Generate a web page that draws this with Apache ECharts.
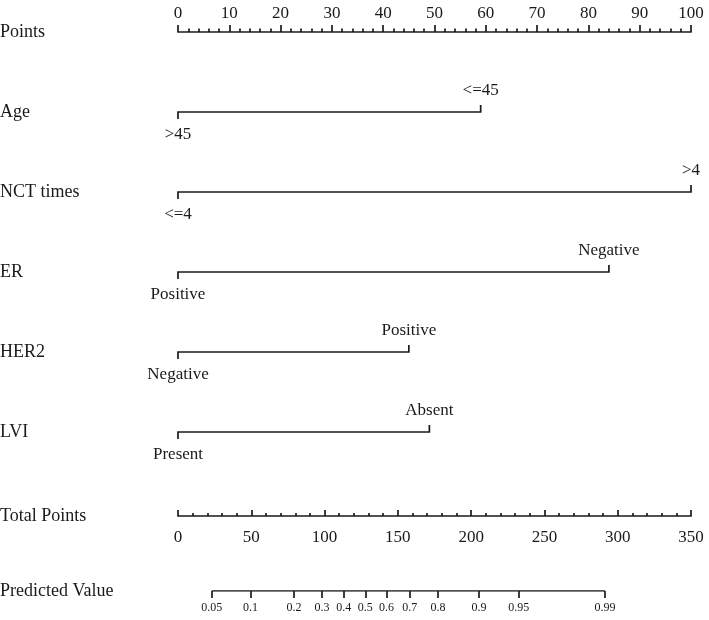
<!DOCTYPE html>
<html><head><meta charset="utf-8">
<script src="https://cdn.jsdelivr.net/npm/echarts@6/dist/echarts.min.js"></script>
<style>html,body{margin:0;padding:0;background:#fff}#c{width:709px;height:620px}</style>
</head><body><div id="c"></div>
<script>
// ---- data ----
const rowNames = ['Points', 'Age', 'NCT times', 'ER', 'HER2', 'LVI'];
const bottomRowNames = ['Total Points', 'Predicted Value'];
const lowLevels = ['>45', '<=4', 'Positive', 'Negative', 'Present'];
const highLevels = ['<=45', '>4', 'Negative', 'Positive', 'Absent'];
const lowPoints = [0, 0, 0, 0, 0];
const highPoints = [59, 100, 84, 45, 49];
const pointsRange = [0, 100];
const totalRange = [0, 350];
const predLabels = ['0.05', '0.1', '0.2', '0.3', '0.4', '0.5', '0.6', '0.7', '0.8', '0.9', '0.95', '0.99'];
const predTotals = [23.1, 49.5, 79.1, 98.2, 113.0, 127.8, 142.2, 158.1, 177.4, 205.4, 232.5, 291.3];

// ---- styling ----
const FONT = '"Liberation Serif", "Times New Roman", serif';
const INK = '#1a1a1a';
const LW = 1.7;
const FS = 17;
const FS_ROW = 18;

const bracketData = highPoints.map((v, i) => [lowPoints[i], v, i + 1]);

const chart = echarts.init(document.getElementById('c'), null, { renderer: 'canvas' });
chart.setOption({
  animation: false,
  backgroundColor: '#fff',
  textStyle: { fontFamily: FONT, color: INK },
  grid: [
    { left: 178, right: 18, top: 32, bottom: 188, containLabel: false, outerBoundsMode: 'none' },
    { left: 178, right: 18, top: 516, bottom: 29, containLabel: false, outerBoundsMode: 'none' }
  ],
  xAxis: [
    {
      type: 'value', gridIndex: 0, position: 'top',
      min: pointsRange[0], max: pointsRange[1], interval: 10,
      axisLine: { show: true, onZero: false, lineStyle: { color: INK, width: LW } },
      axisTick: { show: true, length: 7, lineStyle: { color: INK, width: LW } },
      minorTick: { show: true, splitNumber: 5, length: 3.5, lineStyle: { color: INK, width: LW } },
      splitLine: { show: false },
      axisLabel: { fontFamily: FONT, fontSize: FS, color: INK, margin: 10 }
    },
    {
      type: 'value', gridIndex: 1, position: 'top',
      min: totalRange[0], max: totalRange[1], interval: 50,
      axisLine: { show: true, onZero: false, lineStyle: { color: INK, width: LW } },
      axisTick: { show: true, length: 6, lineStyle: { color: INK, width: LW } },
      minorTick: { show: true, splitNumber: 5, length: 3, lineStyle: { color: INK, width: LW } },
      splitLine: { show: false },
      axisLabel: { inside: true, fontFamily: FONT, fontSize: FS, color: INK, margin: 13 }
    },
    {
      type: 'value', gridIndex: 1, position: 'bottom',
      min: totalRange[0], max: totalRange[1],
      axisLine: { show: false, onZero: false },
      axisTick: { show: true, length: 7, customValues: predTotals, lineStyle: { color: INK, width: LW } },
      splitLine: { show: false },
      axisLabel: {
        customValues: predTotals, fontFamily: FONT, fontSize: 12, color: INK, margin: 11,
        formatter: function (v) {
          let best = 0;
          predTotals.forEach((t, i) => { if (Math.abs(t - v) < Math.abs(predTotals[best] - v)) best = i; });
          return predLabels[best];
        }
      }
    }
  ],
  yAxis: [
    {
      type: 'value', gridIndex: 0, inverse: true, min: 0, max: rowNames.length - 1, interval: 1,
      axisLine: { show: false }, axisTick: { show: false }, splitLine: { show: false },
      axisLabel: {
        align: 'left', margin: 178, fontFamily: FONT, fontSize: FS_ROW, color: INK,
        formatter: v => rowNames[Math.round(v)] || ''
      }
    },
    {
      type: 'value', gridIndex: 1, min: 0, max: 1, interval: 1,
      axisLine: { show: false }, axisTick: { show: false }, splitLine: { show: false },
      axisLabel: {
        align: 'left', margin: 178, fontFamily: FONT, fontSize: FS_ROW, color: INK,
        formatter: v => (v === 1 ? bottomRowNames[0] : bottomRowNames[1])
      }
    }
  ],
  series: [
    {
      type: 'custom', xAxisIndex: 0, yAxisIndex: 0, silent: true, clip: false,
      data: bracketData,
      renderItem: function (params, api) {
        const idx = params.dataIndex;
        const a = api.coord([api.value(0), api.value(2)]);
        const b = api.coord([api.value(1), api.value(2)]);
        const t = 7;
        const font = FS + 'px ' + FONT;
        return {
          type: 'group',
          children: [
            {
              type: 'polyline',
              shape: { points: [[a[0], a[1] + t], [a[0], a[1]], [b[0], b[1]], [b[0], b[1] - t]] },
              style: { stroke: INK, lineWidth: LW, fill: 'none' }
            },
            {
              type: 'text', x: a[0], y: a[1] + 23,
              style: { text: lowLevels[idx], font: font, fill: INK, align: 'center', verticalAlign: 'middle' }
            },
            {
              type: 'text', x: b[0], y: b[1] - 21,
              style: { text: highLevels[idx], font: font, fill: INK, align: 'center', verticalAlign: 'middle' }
            }
          ]
        };
      }
    },
    {
      type: 'line', xAxisIndex: 2, yAxisIndex: 1, silent: true, symbol: 'none',
      data: [[predTotals[0], 0], [predTotals[predTotals.length - 1], 0]],
      lineStyle: { color: INK, width: LW }
    }
  ]
});
</script>
</body></html>
